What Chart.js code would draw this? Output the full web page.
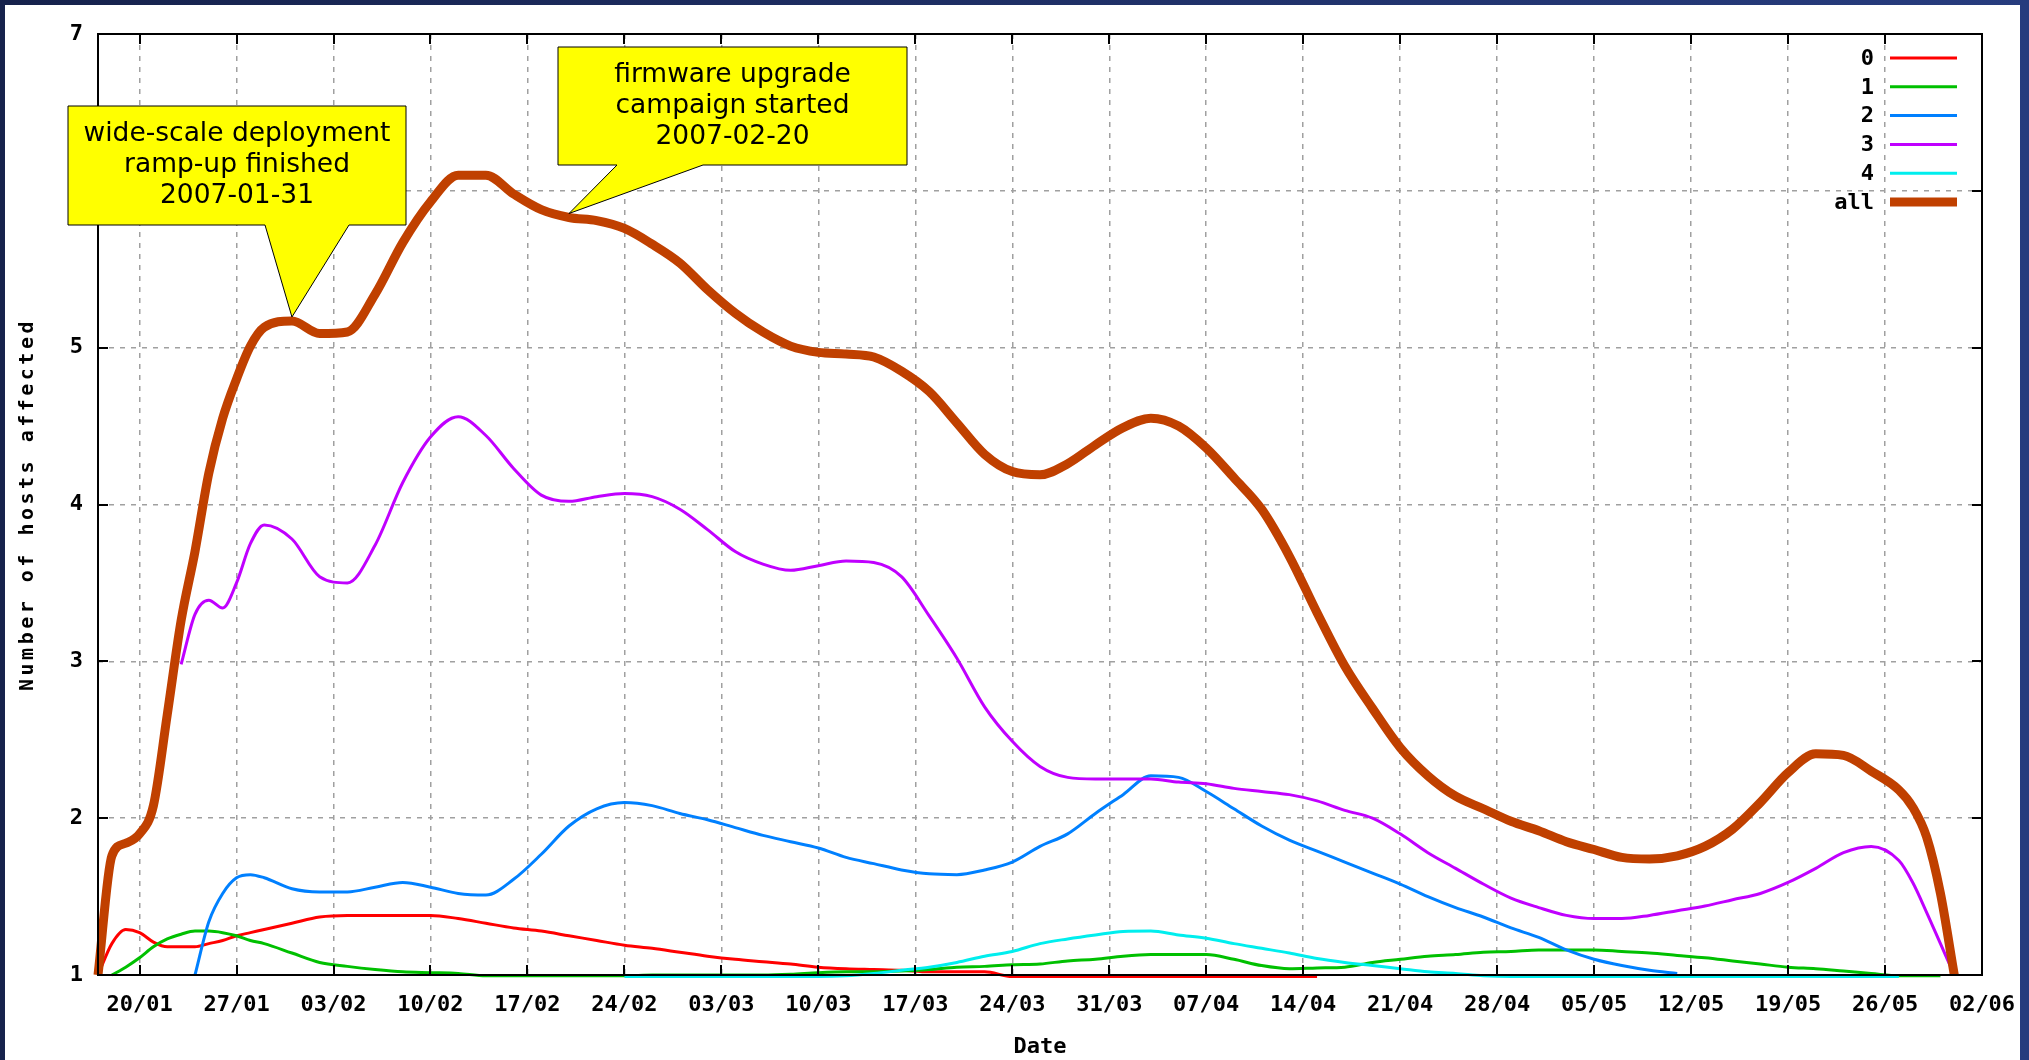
<!DOCTYPE html>
<html>
<head>
<meta charset="utf-8">
<title>Number of hosts affected</title>
<script src="https://cdn.jsdelivr.net/npm/chart.js@4.4.1/dist/chart.umd.min.js"></script>
<style>
  html, body { margin: 0; padding: 0; width: 2029px; height: 1060px; overflow: hidden;
    background: linear-gradient(90deg, #16224c, #273c7e); }
  #wrap { position: absolute; left: 5px; top: 5px; width: 2015px; height: 1055px; background: #fff; }
  canvas { display: block; }
</style>
</head>
<body>
<div id="wrap"><canvas id="c" width="2015" height="1055"></canvas></div>
<script>
// Day offsets counted from 2007-01-17 (day 0).
const days = [
  0, 1, 2, 3, 4, 5, 6, 7, 8, 9, 10, 11, 12,
  14, 16, 18, 20, 22, 24, 26, 28, 30, 32,
  34, 36, 38, 40, 42, 44, 46, 48, 50, 52,
  54, 56, 58, 60, 62, 64, 66, 68, 70, 72,
  74, 76, 78, 80, 82, 84, 86, 88, 90, 92,
  94, 96, 98, 100, 102, 104, 106, 108, 110, 112,
  114, 116, 118, 120, 122, 124, 126, 128, 130,
  131, 132, 133, 134
];

// Weekly date ticks on the x axis.
const tickDays = [3, 10, 17, 24, 31, 38, 45, 52, 59, 66, 73, 80, 87, 94, 101, 108, 115, 122, 129, 136];
const tickLabels = ['20/01', '27/01', '03/02', '10/02', '17/02', '24/02', '03/03', '10/03', '17/03', '24/03',
  '31/03', '07/04', '14/04', '21/04', '28/04', '05/05', '12/05', '19/05', '26/05', '02/06'];
const yTicks = [1, 2, 3, 4, 5, 6, 7];

const seriesNames = ['0', '1', '2', '3', '4', 'all'];

const hosts0 = [
  1.00, 1.20, 1.29, 1.27, 1.21, 1.18, 1.18, 1.18, 1.20, 1.22, 1.25, 1.27, 1.29,
  1.33, 1.37, 1.38, 1.38, 1.38, 1.38, 1.36, 1.33, 1.30, 1.28,
  1.25, 1.22, 1.19, 1.17, 1.145, 1.12, 1.10, 1.085, 1.07, 1.05,
  1.04, 1.035, 1.03, 1.02, 1.02, 1.02, 0.99, 0.99, 0.99, 0.99,
  0.99, 0.99, 0.99, 0.99, 0.99, 0.99, 0.99, 0.99, null, null,
  null, null, null, null, null, null, null, null, null, null,
  null, null, null, null, null, null, null, null, null,
  null, null, null, null
];

const hosts1 = [
  null, 1.00, 1.05, 1.11, 1.18, 1.23, 1.26, 1.28, 1.28, 1.27, 1.25, 1.22, 1.20,
  1.14, 1.08, 1.055, 1.035, 1.02, 1.015, 1.01, 0.995, 0.995, 0.995,
  0.995, 0.995, 0.995, 1.00, 1.00, 1.00, 1.00, 1.00, 1.005, 1.015,
  1.02, 1.02, 1.025, 1.035, 1.05, 1.055, 1.065, 1.07, 1.09, 1.10,
  1.12, 1.13, 1.13, 1.13, 1.10, 1.06, 1.04, 1.045, 1.05, 1.08,
  1.10, 1.12, 1.13, 1.145, 1.15, 1.16, 1.16, 1.16, 1.15, 1.14,
  1.125, 1.11, 1.09, 1.07, 1.05, 1.04, 1.025, 1.01, 0.995,
  0.995, 0.995, 0.995, null
];

const hosts2 = [
  null, null, null, null, null, null, null, 1.00, 1.34, 1.52, 1.62, 1.64, 1.62,
  1.55, 1.53, 1.53, 1.56, 1.59, 1.56, 1.52, 1.51, 1.61, 1.77,
  1.95, 2.06, 2.10, 2.08, 2.03, 1.99, 1.94, 1.89, 1.85, 1.81,
  1.75, 1.71, 1.67, 1.645, 1.64, 1.67, 1.72, 1.82, 1.90, 2.03,
  2.15, 2.27, 2.26, 2.17, 2.06, 1.95, 1.86, 1.79, 1.72, 1.65,
  1.58, 1.50, 1.43, 1.37, 1.30, 1.24, 1.16, 1.10, 1.06, 1.03,
  1.01, null, null, null, null, null, null, null, null,
  null, null, null, null
];

const hosts3 = [
  null, null, null, null, null, null, 2.98, 3.30, 3.39, 3.34, 3.50, 3.75, 3.87,
  3.78, 3.54, 3.50, 3.74, 4.14, 4.43, 4.56, 4.44, 4.23, 4.06,
  4.02, 4.05, 4.07, 4.05, 3.97, 3.84, 3.70, 3.62, 3.58, 3.61,
  3.64, 3.63, 3.54, 3.29, 3.02, 2.71, 2.49, 2.33, 2.26, 2.25,
  2.25, 2.25, 2.23, 2.22, 2.19, 2.17, 2.15, 2.11, 2.05, 2.00,
  1.90, 1.78, 1.68, 1.58, 1.49, 1.43, 1.38, 1.36, 1.36, 1.38,
  1.41, 1.44, 1.48, 1.52, 1.59, 1.68, 1.78, 1.82, 1.73,
  1.59, 1.40, 1.20, 1.00
];

const hosts4 = [
  null, null, null, null, null, null, null, null, null, null, null, null, null,
  null, null, null, null, null, null, null, null, null, null,
  null, null, 0.99, 0.99, 0.99, 0.99, 0.99, 0.99, 0.99, 0.99,
  0.995, 1.01, 1.03, 1.05, 1.08, 1.12, 1.15, 1.20, 1.23, 1.255,
  1.277, 1.28, 1.255, 1.235, 1.20, 1.17, 1.14, 1.105, 1.08, 1.06,
  1.04, 1.02, 1.01, 0.995, 0.99, 0.99, 0.99, 0.99, 0.99, 0.99,
  0.99, 0.99, 0.99, 0.99, 0.99, 0.99, 0.99, 0.99, 0.99,
  null, null, null, null
];

const hostsAll = [
  1.00, 1.76, 1.84, 1.90, 2.08, 2.66, 3.26, 3.70, 4.20, 4.55, 4.80, 5.01, 5.13,
  5.17, 5.09, 5.10, 5.34, 5.67, 5.93, 6.10, 6.10, 5.98, 5.88,
  5.83, 5.81, 5.76, 5.66, 5.54, 5.37, 5.22, 5.10, 5.01, 4.97,
  4.96, 4.94, 4.85, 4.72, 4.52, 4.32, 4.21, 4.19, 4.26, 4.38,
  4.49, 4.55, 4.50, 4.36, 4.17, 3.97, 3.67, 3.31, 2.97, 2.70,
  2.45, 2.27, 2.14, 2.06, 1.98, 1.92, 1.85, 1.80, 1.75, 1.74,
  1.76, 1.82, 1.93, 2.10, 2.29, 2.41, 2.40, 2.30, 2.18,
  2.07, 1.88, 1.52, 1.00
];

const seriesValues = [hosts0, hosts1, hosts2, hosts3, hosts4, hostsAll];
const seriesColors = ['#ff0000', '#00c000', '#0080ff', '#c000ff', '#00eeee', '#c04000'];
const seriesWidths = [3, 3, 3, 3, 3, 9];

// Event callouts, pointing at the "all" curve on the given day.
const noteDays = [14, 34];
const noteTexts = [
  ['wide-scale deployment', 'ramp-up finished', '2007-01-31'],
  ['firmware upgrade', 'campaign started', '2007-02-20']
];

const monoFont = '"DejaVu Sans Mono", "Liberation Mono", monospace';

const framePlugin = {
  id: 'frame',
  afterDatasetsDraw(chart) {
    const { ctx, chartArea: a } = chart;
    const xs = chart.scales.x, ys = chart.scales.y;
    ctx.save();
    ctx.strokeStyle = '#000';
    ctx.lineWidth = 2;
    ctx.beginPath();
    tickDays.forEach(d => {
      const px = Math.round(xs.getPixelForValue(d));
      ctx.moveTo(px, a.bottom); ctx.lineTo(px, a.bottom - 10);
      ctx.moveTo(px, a.top); ctx.lineTo(px, a.top + 10);
    });
    yTicks.forEach(v => {
      const py = Math.round(ys.getPixelForValue(v));
      ctx.moveTo(a.left, py); ctx.lineTo(a.left + 10, py);
      ctx.moveTo(a.right, py); ctx.lineTo(a.right - 10, py);
    });
    ctx.stroke();
    ctx.strokeRect(a.left, a.top, a.right - a.left, a.bottom - a.top);
    ctx.restore();
  }
};

const keyPlugin = {
  id: 'key',
  afterDraw(chart) {
    const { ctx, chartArea: a } = chart;
    ctx.save();
    ctx.font = 'bold 22px ' + monoFont;
    ctx.textAlign = 'right';
    ctx.textBaseline = 'middle';
    chart.data.datasets.forEach((ds, i) => {
      const yy = a.top + 24 + i * 28.8;
      ctx.fillStyle = '#000';
      ctx.fillText(ds.label, a.right - 108, yy + 1);
      ctx.strokeStyle = ds.borderColor;
      ctx.lineWidth = ds.borderWidth;
      ctx.beginPath();
      ctx.moveTo(a.right - 92, yy);
      ctx.lineTo(a.right - 25, yy);
      ctx.stroke();
    });
    ctx.restore();
  }
};

const titlePlugin = {
  id: 'titles',
  afterDraw(chart) {
    const { ctx, chartArea: a } = chart;
    ctx.save();
    ctx.fillStyle = '#000';
    ctx.textAlign = 'center';
    ctx.textBaseline = 'middle';
    ctx.font = 'bold 22px ' + monoFont;
    ctx.fillText('Date', (a.left + a.right) / 2, a.bottom + 72);
    ctx.translate(23, (a.top + a.bottom) / 2);
    ctx.rotate(-Math.PI / 2);
    ctx.font = 'bold 20px ' + monoFont;
    ctx.letterSpacing = '3.5px';
    ctx.fillText('Number of hosts affected', 0, 0);
    ctx.restore();
  }
};

const calloutPlugin = {
  id: 'callouts',
  afterDraw(chart, args, opts) {
    const { ctx } = chart;
    const xs = chart.scales.x, ys = chart.scales.y;
    opts.boxes.forEach((b, n) => {
      const k = days.indexOf(noteDays[n]);
      const tipX = xs.getPixelForValue(noteDays[n]);
      const tipY = ys.getPixelForValue(hostsAll[k]) - 4;
      ctx.save();
      ctx.beginPath();
      ctx.moveTo(b.left, b.top);
      ctx.lineTo(b.right, b.top);
      ctx.lineTo(b.right, b.bottom);
      ctx.lineTo(b.baseR, b.bottom);
      ctx.lineTo(tipX, tipY);
      ctx.lineTo(b.baseL, b.bottom);
      ctx.lineTo(b.left, b.bottom);
      ctx.closePath();
      ctx.fillStyle = '#ffff00';
      ctx.fill();
      ctx.strokeStyle = '#000';
      ctx.lineWidth = 1;
      ctx.stroke();
      ctx.fillStyle = '#000';
      ctx.font = '26.5px "DejaVu Sans", sans-serif';
      ctx.textAlign = 'center';
      ctx.textBaseline = 'middle';
      const cx = (b.left + b.right) / 2;
      const cy = (b.top + b.bottom) / 2;
      noteTexts[n].forEach((line, j) => {
        ctx.fillText(line, cx, cy + (j - 1) * 31);
      });
      ctx.restore();
    });
  }
};

const gridStyle = { color: '#a0a0a0', lineWidth: 1.5, drawTicks: false };
const tickFont = { family: monoFont, weight: 'bold', size: 22 };

new Chart(document.getElementById('c'), {
  type: 'line',
  data: {
    datasets: seriesValues.map((vals, i) => ({
      label: seriesNames[i],
      data: days.map((d, k) => ({ x: d, y: vals[k] })),
      borderColor: seriesColors[i],
      backgroundColor: seriesColors[i],
      borderWidth: seriesWidths[i],
      pointRadius: 0,
      cubicInterpolationMode: 'monotone',
      spanGaps: false,
      fill: false,
      clip: false,
      order: seriesValues.length - 1 - i
    }))
  },
  options: {
    responsive: false,
    animation: false,
    devicePixelRatio: 1,
    layout: { padding: { left: 0, top: 29, right: 38, bottom: 0 } },
    plugins: {
      legend: { display: false },
      tooltip: { enabled: false },
      callouts: {
        boxes: [
          { left: 63, top: 101, right: 401, bottom: 220, baseL: 260, baseR: 344 },
          { left: 553, top: 42, right: 902, bottom: 160, baseL: 612, baseR: 698 }
        ]
      }
    },
    scales: {
      x: {
        type: 'linear',
        min: 0,
        max: 136,
        afterBuildTicks: s => { s.ticks = tickDays.map(v => ({ value: v })); },
        afterFit: s => { s.height = 85; s.paddingLeft = 0; s.paddingRight = 0; },
        ticks: {
          autoSkip: false, maxRotation: 0, minRotation: 0, padding: 17,
          color: '#000', font: tickFont,
          callback: (v, i) => tickLabels[i]
        },
        grid: gridStyle,
        border: { display: false, dash: [5, 6] }
      },
      y: {
        type: 'linear',
        min: 1,
        max: 7,
        afterBuildTicks: s => { s.ticks = yTicks.map(v => ({ value: v })); },
        afterFit: s => { s.width = 93; s.paddingTop = 0; s.paddingBottom = 0; },
        ticks: {
          padding: 15, color: '#000', font: tickFont,
          callback: v => String(v)
        },
        grid: gridStyle,
        border: { display: false, dash: [5, 6] }
      }
    }
  },
  plugins: [framePlugin, keyPlugin, titlePlugin, calloutPlugin]
});
</script>
</body>
</html>
